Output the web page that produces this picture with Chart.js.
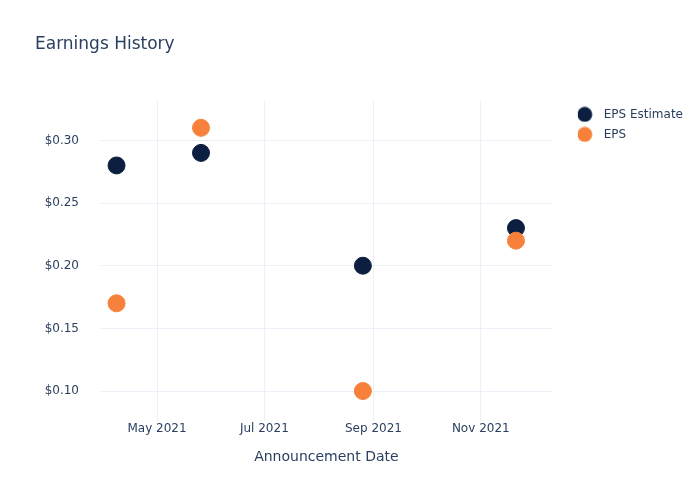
<!DOCTYPE html>
<html>
<head>
<meta charset="utf-8">
<script src="https://cdn.jsdelivr.net/npm/chart.js@4/dist/chart.umd.min.js"></script>
<style>
  html, body { margin: 0; padding: 0; background: #fff; }
  #wrap { width: 700px; height: 500px; }
</style>
</head>
<body>
<div id="wrap"><canvas id="epsChart" width="700" height="500"></canvas></div>
<script>
// data
const announceDates = ["2021-04-08", "2021-05-26", "2021-08-26", "2021-11-21"];
const epsEstimate = [0.28, 0.29, 0.20, 0.23];
const epsActual = [0.17, 0.31, 0.10, 0.22];
const xTickDates = ["2021-05-01", "2021-07-01", "2021-09-01", "2021-11-01"];
const yTickValues = [0.10, 0.15, 0.20, 0.25, 0.30];

// x axis runs in days since 1 Jan 2021
const DAY = 86400000;
const BASE = Date.parse("2021-01-01T00:00:00Z");
const toDay = s => (Date.parse(s + "T00:00:00Z") - BASE) / DAY;
const months = ["Jan", "Feb", "Mar", "Apr", "May", "Jun", "Jul", "Aug", "Sep", "Oct", "Nov", "Dec"];
const dayLabel = d => { const dt = new Date(BASE + Math.round(d) * DAY); return months[dt.getUTCMonth()] + " " + dt.getUTCFullYear(); };

const textColor = "#2a3f5f";
const gridColor = "#ebf0f8";
const font = "'DejaVu Sans', sans-serif";
const navy = "#0c1f40";
const orange = "#f7813a";

const xs = announceDates.map(toDay);

// legend marker: circle drawn at the left of a wider canvas so the text sits further right
function legendDot(color) {
    const c = document.createElement("canvas");
    c.width = 30; c.height = 16;
    const g = c.getContext("2d");
    g.fillStyle = color;
    g.beginPath(); g.arc(8, 8, 7.5, 0, Math.PI * 2); g.fill();
    return c;
}
const dots = [legendDot(navy), legendDot(orange)];

// push the legend a bit away from the plot, like plotly does
const legendShift = {
    id: 'legendShift',
    afterLayout(chart) {
        const lg = chart.legend;
        if (lg) { lg.left += 25; lg.right += 25; }
    }
};

document.addEventListener("DOMContentLoaded", function () {
    const ctx = document.getElementById("epsChart");
    new Chart(ctx, {
        type: 'scatter',
        data: {
            datasets: [
                { label: "EPS Estimate", data: xs.map((x, i) => ({ x: x, y: epsEstimate[i] })),
                  backgroundColor: navy, borderColor: navy, pointRadius: 8.5, pointHoverRadius: 8.5, order: 1 },
                { label: "EPS", data: xs.map((x, i) => ({ x: x, y: epsActual[i] })),
                  backgroundColor: orange, borderColor: orange, pointRadius: 8.5, pointHoverRadius: 8.5, order: 0 }
            ]
        },
        plugins: [legendShift],
        options: {
            responsive: false,
            animation: false,
            layout: { padding: { left: 35, right: 32, top: 0, bottom: 0 } },
            plugins: {
                title: {
                    display: true, text: "Earnings History", align: 'start', color: textColor,
                    font: { family: font, size: 17, weight: 'normal' },
                    padding: { top: 34, bottom: 46 }
                },
                legend: {
                    position: 'right', align: 'start', fullSize: false,
                    labels: {
                        usePointStyle: true,
                        color: textColor, font: { family: font, size: 12 }, padding: 8,
                        generateLabels: chart => {
                            const items = Chart.defaults.plugins.legend.labels.generateLabels(chart);
                            items.forEach(it => { it.pointStyle = dots[it.datasetIndex]; });
                            return items;
                        },
                        sort: (a, b) => a.datasetIndex - b.datasetIndex
                    }
                },
                tooltip: { enabled: false }
            },
            scales: {
                x: {
                    type: 'linear', min: 87.6, max: 344.9,
                    afterBuildTicks: s => { s.ticks = xTickDates.map(d => ({ value: toDay(d) })); },
                    afterFit: s => { s.height = 79; },
                    ticks: { callback: v => dayLabel(v), color: textColor, font: { family: font, size: 12 }, padding: 1, maxRotation: 0 },
                    grid: { color: gridColor, drawTicks: false },
                    border: { display: false },
                    title: { display: true, text: "Announcement Date", color: textColor, font: { family: font, size: 14 }, padding: { top: 8, bottom: 34 } }
                },
                y: {
                    min: 0.0761, max: 0.3319,
                    afterBuildTicks: s => { s.ticks = yTickValues.map(v => ({ value: v })); },
                    afterFit: s => { s.width = 65; },
                    ticks: { callback: v => "$" + v.toFixed(2), color: textColor, font: { family: font, size: 12 }, padding: 21 },
                    grid: { color: gridColor, drawTicks: false },
                    border: { display: false }
                }
            }
        }
    });
});
</script>
</body>
</html>
